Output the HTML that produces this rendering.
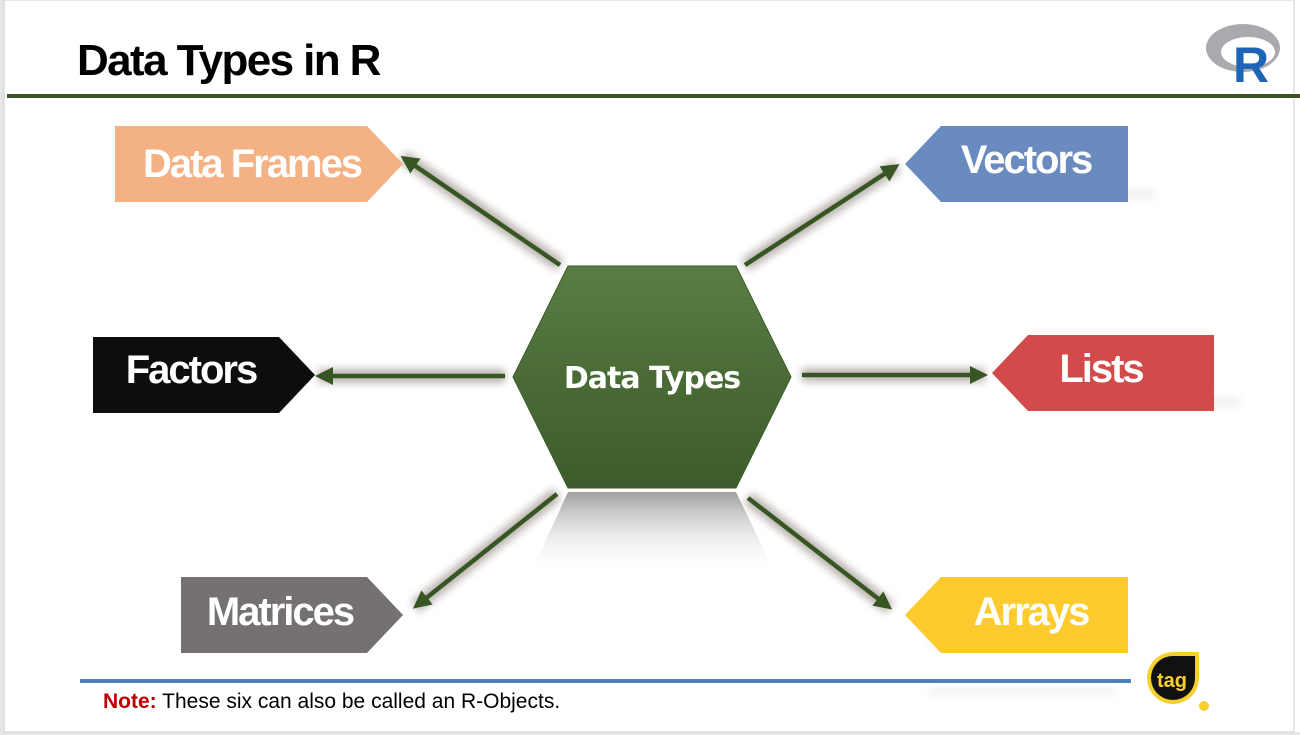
<!DOCTYPE html>
<html><head><meta charset="utf-8"><style>
html,body{margin:0;padding:0;background:#e6e6e6;}
body{width:1300px;height:735px;overflow:hidden;position:relative;}
svg{position:absolute;left:0;top:0;}
</style></head><body>
<svg width="1300" height="735" viewBox="0 0 1300 735" font-family="Liberation Sans, Arial, sans-serif">
<defs>
<linearGradient id="refl" x1="0" y1="0" x2="0" y2="1"><stop offset="0" stop-color="#888"/><stop offset="1" stop-color="#fff" stop-opacity="0"/></linearGradient>
<linearGradient id="hex" x1="0" y1="0" x2="0" y2="1"><stop offset="0" stop-color="#5a7d45"/><stop offset="0.5" stop-color="#4a6b35"/><stop offset="1" stop-color="#3e5c2b"/></linearGradient>
<marker id="ah" markerWidth="4" markerHeight="4" refX="2" refY="2" orient="auto"><path d="M0,0 L4,2 L0,4 z" fill="#375623"/></marker>
<filter id="bl"><feGaussianBlur stdDeviation="4"/></filter>
</defs>
<rect x="4" y="0" width="1296" height="732" fill="#fff"/>
<rect x="4" y="0" width="1290" height="732" fill="none" stroke="#d0d0d0" stroke-width="1"/>
<text x="77" y="75" font-size="44" font-weight="bold" fill="#000" letter-spacing="-1.6">Data Types in R</text>
<rect x="7" y="94" width="1293" height="4" fill="#375623"/>
<ellipse cx="1243" cy="48" rx="37" ry="24" fill="#a9aaae"/>
<ellipse cx="1248" cy="52" rx="27" ry="15" fill="#fff"/>
<text x="1233" y="82" font-size="50" font-weight="bold" fill="#1f65b7">R</text>
<polygon points="568,492 736,492 776,575 530,575" fill="url(#refl)" opacity="0.8"/>
<g stroke="#5a4a40" stroke-width="14" opacity="0.4" filter="url(#bl)" fill="none">
<line x1="560" y1="265" x2="403" y2="157"/><line x1="745" y1="265" x2="897" y2="166"/>
<line x1="505" y1="376" x2="318" y2="376"/><line x1="802" y1="375" x2="985" y2="375"/>
<line x1="557" y1="494" x2="415" y2="607"/><line x1="748" y1="498" x2="890" y2="608"/>
</g>
<g stroke="#375623" stroke-width="4.5" fill="none" marker-end="url(#ah)">
<line x1="560" y1="265" x2="408" y2="161"/><line x1="745" y1="265" x2="892" y2="169"/>
<line x1="505" y1="376" x2="324" y2="376"/><line x1="802" y1="375" x2="979" y2="375"/>
<line x1="557" y1="494" x2="420" y2="603"/><line x1="748" y1="498" x2="885" y2="604"/>
</g>
<polygon points="568,266 736,266 791,377 736,488 568,488 513,377" fill="url(#hex)" stroke="#3a5a28" stroke-width="1"/>
<text x="652" y="388" font-size="30" font-weight="bold" fill="#fff" text-anchor="middle" font-family="DejaVu Sans, sans-serif" letter-spacing="-1">Data Types</text>
<g fill="#aaa" opacity="0.2" filter="url(#bl)">
<rect x="940" y="190" width="215" height="8"/><rect x="1030" y="398" width="210" height="8"/><rect x="930" y="640" width="200" height="8"/>
<rect x="930" y="688" width="185" height="6"/>
</g>
<polygon points="115,126 367,126 403,164 367,202 115,202" fill="#f4b183"/>
<text x="252" y="177" font-size="40" font-weight="bold" fill="#fff" text-anchor="middle" letter-spacing="-2">Data Frames</text>
<polygon points="905,164 941,126 1128,126 1128,202 941,202" fill="#6a8bbf"/>
<text x="1026" y="173" font-size="40" font-weight="bold" fill="#fff" text-anchor="middle" letter-spacing="-2">Vectors</text>
<polygon points="93,337 279,337 315,375 279,413 93,413" fill="#0d0d0d"/>
<text x="191" y="383" font-size="40" font-weight="bold" fill="#fff" text-anchor="middle" letter-spacing="-2">Factors</text>
<polygon points="992,373 1028,335 1214,335 1214,411 1028,411" fill="#d24a4a"/>
<text x="1101" y="382" font-size="40" font-weight="bold" fill="#fff" text-anchor="middle" letter-spacing="-2">Lists</text>
<polygon points="181,577 367,577 403,615 367,653 181,653" fill="#767171"/>
<text x="280" y="625" font-size="40" font-weight="bold" fill="#fff" text-anchor="middle" letter-spacing="-2">Matrices</text>
<polygon points="905,615 941,577 1128,577 1128,653 941,653" fill="#fecb2f"/>
<text x="1031" y="625" font-size="40" font-weight="bold" fill="#fff" text-anchor="middle" letter-spacing="-2">Arrays</text>
<rect x="80" y="679" width="1051" height="4" fill="#4f80bd"/>
<text x="103" y="708" font-size="21" letter-spacing="0"><tspan fill="#c00000" font-weight="bold">Note:</tspan><tspan fill="#000"> These six can also be called an R-Objects.</tspan></text>
<path d="M1173,652 a26,26 0 1,0 26,26 l0,-26 z" fill="#f5d130"/>
<path d="M1173,656 a22,22 0 1,0 22,22 l0,-22 z" fill="#111"/>
<text x="1172" y="687" font-size="20" font-weight="bold" fill="#f5d130" text-anchor="middle">tag</text>
<circle cx="1204" cy="706" r="5" fill="#f5d130"/>
</svg>
</body></html>
